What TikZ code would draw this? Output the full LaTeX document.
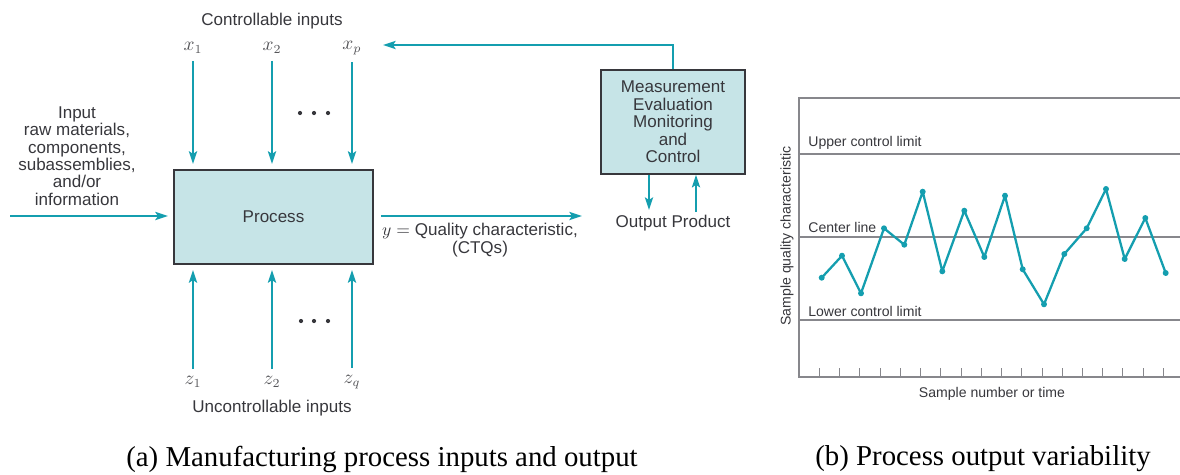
\documentclass[tikz,border=0pt]{standalone}
\usepackage{fontspec}
\setmainfont{Liberation Serif}
\setsansfont{Liberation Sans}
\definecolor{tealc}{RGB}{20,158,175}
\definecolor{ink}{RGB}{55,55,60}
\definecolor{rule}{RGB}{135,135,140}
\definecolor{panel}{RGB}{198,228,231}
\usetikzlibrary{arrows.meta,positioning}

\begin{document}
\begin{tikzpicture}[x=0.02cm,y=-0.02cm,
    lbl/.style={font=\sffamily\fontsize{9.7}{9.9}\selectfont, text=ink, inner sep=0pt},
    small/.style={font=\sffamily\fontsize{8}{9}\selectfont, text=ink, inner sep=0pt},
    var/.style={font=\fontsize{10.5}{10}\selectfont, text=ink!85, inner sep=0pt},
    feed/.style={tealc, line width=1.5pt, -{Stealth[length=2.5mm,width=1.6mm,inset=0.5mm]}},
    blk/.style={draw=ink, line width=0.9pt, fill=panel, inner sep=2pt}]
        \useasboundingbox (0,0) rectangle (1180,474);
        \node[lbl, blk, minimum width=3.98cm, minimum height=1.88cm] (proc) at (273.5,217) {Process};
        \node[lbl, blk, align=center, minimum width=2.88cm, minimum height=2.08cm] (meas) at (673,122)
          {Measurement\\Evaluation\\Monitoring\\and\\Control};
        \node[lbl] (ctrl) at (272,21) {Controllable inputs};
        \foreach \n/\xx/\s in {x1/193/1, x2/272/2, xp/352/p} {
          \node[var] (\n) at (\xx,48) {$x_{\s}$};
          \draw[feed] ([yshift=-4pt]\n.south) -- ([yshift=3pt]\n |- proc.north);
        }
        \foreach \dx in {300,314,328} \fill[ink] (\dx,113) circle (1.2pt);
        \foreach \n/\xx/\s in {z1/193/1, z2/272/2, zq/352/q} {
          \node[var] (\n) at (\xx,382) {$z_{\s}$};
          \draw[feed] ([yshift=4pt]\n.north) -- ([yshift=-3pt]\n |- proc.south);
        }
        \foreach \dx in {301,314,328} \fill[ink] (\dx,321) circle (1.2pt);
        \node[lbl] (unctrl) at (272,408) {Uncontrollable inputs};
        \node[lbl, align=center] (raw) at (77,156)
          {Input\\raw materials,\\components,\\subassemblies,\\and/or\\information};
        \coordinate (src) at (10,216);
        \draw[feed] (src) -- ([xshift=-3pt]src -| proc.west);
        \coordinate (sink) at (582,216);
        \draw[feed] ([xshift=4pt]proc.east |- sink) -- (sink);
        \node[lbl, align=center] (ctq) at (480,240) {$y = {}$Quality characteristic,\\(CTQs)};
        \coordinate (back) at (383,45);
        \draw[feed] (meas.north) |- (back);
        \coordinate (dn) at (649,210);
        \coordinate (up) at (696,212);
        \draw[feed] (dn |- meas.south) -- (dn);
        \draw[feed] (up) -- (up |- meas.south);
        \node[lbl] (prod) at (673,223) {Output Product};
        \draw[rule, line width=0.6pt] (1180,98) -- (799,98) -- (799,377) -- (1180,377);
        \foreach \yy in {154,237,320} \draw[rule, line width=0.6pt] (799,\yy) -- (1180,\yy);
        \foreach \i in {0,...,17} \draw[rule, line width=0.5pt] (819.3+20.24*\i,377) -- ++(0,-9);
        \node[small, anchor=west] (ucl) at (808,143) {Upper control limit};
        \node[small, anchor=west] (cl) at (808,227) {Center line};
        \node[small, anchor=west] (lcl) at (808,311) {Lower control limit};
        \node[small, rotate=90] (ylab) at (787,236) {Sample quality characteristic};
        \node[small] (xlab) at (992,394) {Sample number or time};
        \draw[tealc, line width=1.3pt, line join=round] plot coordinates {(821.7,277.7) (842,255.7)
          (861,293.3) (884,228.3) (904.3,244.7) (922.7,191.7) (942.3,271.3) (964.3,210.7) (984.3,257)
          (1005,195.7) (1022.7,269.3) (1044,304.3) (1064.3,254) (1086.7,228.3) (1106,189) (1124.7,259)
          (1145.3,218) (1165.7,273)};
        \foreach \xx/\yy in {821.7/277.7, 842/255.7, 861/293.3, 884/228.3, 904.3/244.7, 922.7/191.7,
          942.3/271.3, 964.3/210.7, 984.3/257, 1005/195.7, 1022.7/269.3, 1044/304.3, 1064.3/254,
          1086.7/228.3, 1106/189, 1124.7/259, 1145.3/218, 1165.7/273}
          \fill[tealc] (\xx,\yy) circle (1.7pt);
        \node[font=\fontsize{16.4}{18}\selectfont] (capa) at (382,459) {(a) Manufacturing process inputs and output};
        \node[font=\fontsize{16.4}{18}\selectfont] (capb) at (983,459) {(b) Process output variability};
      \end{tikzpicture}
\end{document}
